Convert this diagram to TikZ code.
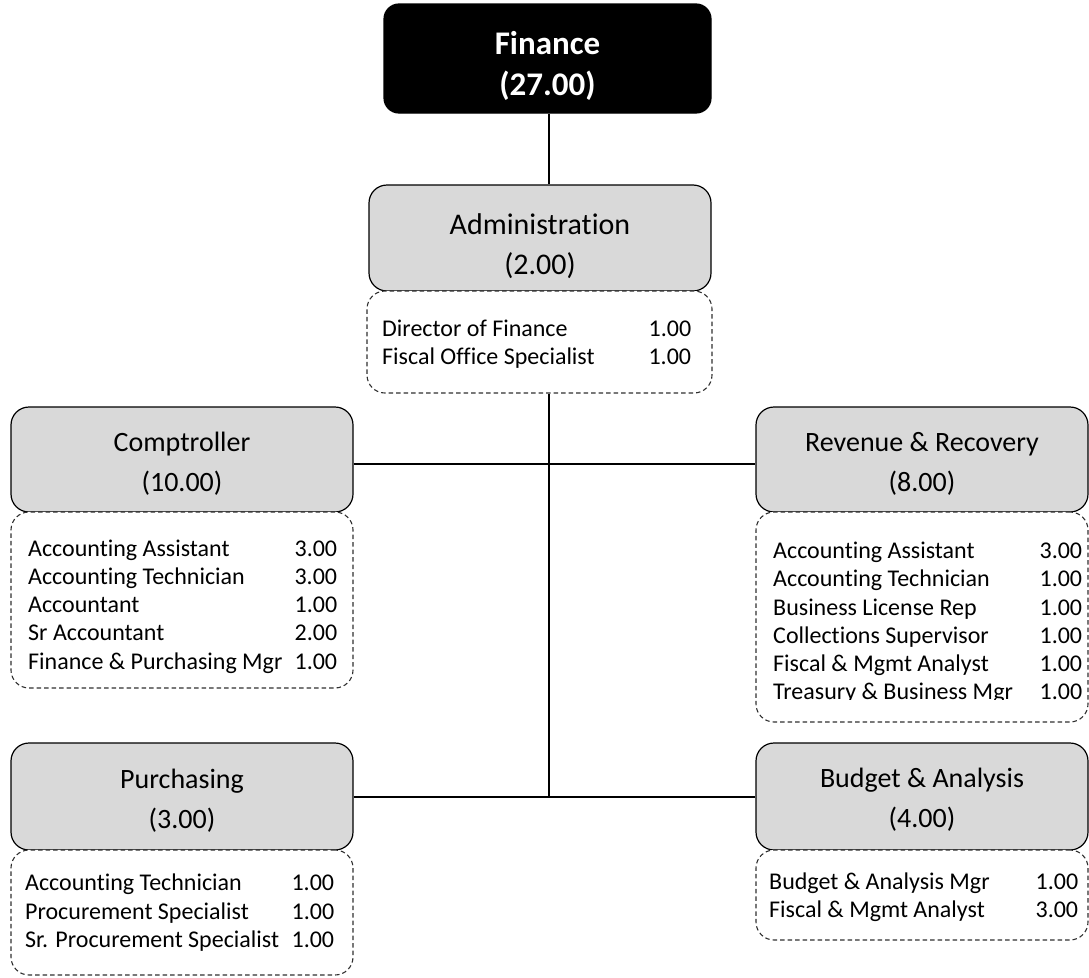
\documentclass[tikz,border=0pt]{standalone}
\usepackage{fontspec}
\setmainfont[Ligatures=NoCommon]{Carlito}
\definecolor{unitgray}{HTML}{D9D9D9}
\definecolor{dashgray}{HTML}{303030}
\begin{document}
\begin{tikzpicture}[x=1pt,y=-1pt,
  headbox/.style={draw=black, line width=1.2pt, fill=black,
    rounded corners=15pt, inner sep=0pt},
  headtext/.style={align=center, inner sep=0pt, text=white,
    font=\fontsize{33}{41}\selectfont\bfseries},
  unitbox/.style={draw=black, line width=1.2pt, fill=unitgray,
    rounded corners=18pt, inner sep=0pt},
  unittext/.style={align=center, inner sep=0pt,
    font=\fontsize{28}{40}\selectfont},
  listbox/.style={draw=dashgray, line width=1.1pt, dash pattern=on 4.5pt off 3pt,
    fill=white, rounded corners=18pt, inner sep=0pt},
  listtext/.style={anchor=west, inner sep=0pt, font=\fontsize{24}{28.3}\selectfont},
  link/.style={draw=black, line width=1.6pt}]
\useasboundingbox (0,0) rectangle (1089,977);

% junction points on the central spine
\coordinate (j1) at (549,464);
\coordinate (j2) at (549,797);

% top of the chart
\node[headbox, minimum width=327pt, minimum height=109pt,
  label={[headtext, yshift=-7pt]center:Finance\\(27.00)}] (fin) at (547.5,58.5) {};

% Administration
\node[unitbox, minimum width=342pt, minimum height=106pt,
  label={[unittext, yshift=-8pt, font=\fontsize{30}{40}\selectfont]center:Administration\\(2.00)}] (adm) at (540,238) {};
\node[listbox, minimum width=345pt, minimum height=102pt] (admlist) at (539.5,342) {};
\node[listtext] (admtext) at (382,344.5) {\begin{tabular*}{309pt}{@{}l@{\extracolsep{\fill}}r@{}}
Director of Finance & 1.00\\
Fiscal Office Specialist & 1.00
\end{tabular*}};

% Comptroller
\node[unitbox, minimum width=342pt, minimum height=105pt,
  label={[unittext, yshift=-4pt]center:Comptroller\\(10.00)}] (comp) at (182,459.5) {};
\node[listbox, minimum width=342pt, minimum height=176pt] (complist) at (182,600) {};
\node[listtext] (comptext) at (28,607) {\begin{tabular*}{309pt}{@{}l@{\extracolsep{\fill}}r@{}}
Accounting Assistant & 3.00\\
Accounting Technician & 3.00\\
Accountant & 1.00\\
Sr Accountant & 2.00\\
Finance \& Purchasing Mgr & 1.00
\end{tabular*}};

% Revenue & Recovery
\node[unitbox, minimum width=332pt, minimum height=105pt,
  label={[unittext, yshift=-4pt]center:Revenue \& Recovery\\(8.00)}] (rev) at (922,459.5) {};
\node[listbox, minimum width=332pt, minimum height=210pt] (revlist) at (922,617) {};
\begin{scope}
\clip (740,515) rectangle (1089,699);
\node[listtext] (revtext) at (773,623.5) {\begin{tabular*}{309pt}{@{}l@{\extracolsep{\fill}}r@{}}
Accounting Assistant & 3.00\\
Accounting Technician & 1.00\\
Business License Rep & 1.00\\
Collections Supervisor & 1.00\\
Fiscal \& Mgmt Analyst & 1.00\\
Treasury \& Business Mgr & 1.00
\end{tabular*}};
\end{scope}

% Purchasing
\node[unitbox, minimum width=342pt, minimum height=107pt,
  label={[unittext, yshift=-4pt]center:Purchasing\\(3.00)}] (purch) at (182,796.5) {};
\node[listbox, minimum width=342pt, minimum height=125pt] (purchlist) at (182,912.5) {};
\node[listtext] (purchtext) at (25,913.5) {\begin{tabular*}{309pt}{@{}l@{\extracolsep{\fill}}r@{}}
Accounting Technician & 1.00\\
Procurement Specialist & 1.00\\
Sr. Procurement Specialist & 1.00
\end{tabular*}};

% Budget & Analysis
\node[unitbox, minimum width=332pt, minimum height=107pt,
  label={[unittext, yshift=-3pt]center:Budget \& Analysis\\(4.00)}] (bud) at (922,796.5) {};
\node[listbox, minimum width=332pt, minimum height=90pt] (budlist) at (922,895) {};
\node[listtext] (budtext) at (769,898) {\begin{tabular*}{309pt}{@{}l@{\extracolsep{\fill}}r@{}}
Budget \& Analysis Mgr & 1.00\\
Fiscal \& Mgmt Analyst & 3.00
\end{tabular*}};

% connectors
\draw[link] (j1 |- fin.south) -- (j1 |- adm.north);
\draw[link] (j1 |- admlist.south) -- (j2);
\draw[link] (comp.east |- j1) -- (rev.west |- j1);
\draw[link] (purch.east |- j2) -- (bud.west |- j2);
\end{tikzpicture}
\end{document}
